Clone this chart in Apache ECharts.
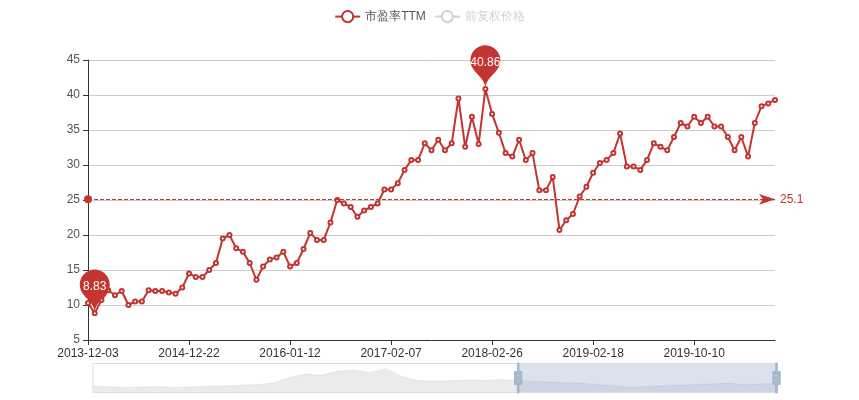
<!doctype html>
<html>
<head>
    <meta charset="utf-8">
    <title>市盈率TTM</title>
    <style>
        html, body { margin: 0; padding: 0; }
        #container { width: 859px; height: 400px; }
    </style>
</head>
<body>
<div id="container"></div>
<script type="text/javascript" src="https://cdn.jsdelivr.net/npm/echarts@6/dist/echarts.min.js"></script>
<script type="text/javascript">
    // 轴标签上的关键日期（每 15 个点一个）
    var keyDates = ['2013-12-03', '2014-12-22', '2016-01-12', '2017-02-07', '2018-02-26', '2019-02-18', '2019-10-10'];
    var peValues = [
        10.3, 8.83, 10.7, 12.1, 11.4, 12.0, 10.0, 10.5, 10.5, 12.1, 12.0, 12.0, 11.8, 11.6, 12.5, 14.5,
        14.0, 14.0, 15.0, 16.0, 19.5, 20.0, 18.1, 17.6, 16.0, 13.6, 15.5, 16.5, 16.8, 17.6, 15.5,
        16.0, 18.0, 20.3, 19.3, 19.3, 21.8, 25.0, 24.5, 24.0, 22.6, 23.5, 24.0, 24.5, 26.5, 26.5,
        27.4, 29.3, 30.7, 30.7, 33.1, 32.1, 33.6, 32.1, 33.1, 39.5, 32.6, 36.9, 33.0, 40.86, 37.3,
        34.6, 31.7, 31.2, 33.6, 30.7, 31.7, 26.4, 26.4, 28.3, 20.7, 22.1, 23.0, 25.5, 26.9, 28.9,
        30.3, 30.7, 31.7, 34.5, 29.8, 29.8, 29.3, 30.7, 33.1, 32.6, 32.1, 34.0, 36.0, 35.5, 36.9,
        36.0, 36.9, 35.5, 35.5, 34.0, 32.1, 34.0, 31.2, 36.0, 38.4, 38.8, 39.3
    ];
    var priceValues = [
        12, 11.5, 11, 11.2, 11.5, 11, 11.3, 11.8, 12, 12.5, 13, 14, 18, 21, 20, 23, 24, 22, 25, 19,
        16, 15.5, 16, 16.5, 16.2, 16.8, 16, 15.5, 15, 14.5, 14, 13, 12, 11, 11.5, 12, 12.5, 13, 13.5, 14, 13, 13.5, 14
    ];
    var peAverage = 25.1;
    var step = 15;

    // 关键日期之间按天数补齐类目
    function fmt(d) { return d.toISOString().slice(0, 10); }
    var categories = [];
    for (var i = 0; i < peValues.length; i++) {
        var k = Math.floor(i / step), r, dayStep, a;
        if (k >= keyDates.length - 1) {
            a = new Date(keyDates[keyDates.length - 1]);
            r = i - (keyDates.length - 1) * step;
            dayStep = 16 * 86400000;
        } else {
            a = new Date(keyDates[k]);
            r = i % step;
            dayStep = (new Date(keyDates[k + 1]) - a) / step;
        }
        categories.push(fmt(new Date(a.getTime() + r * dayStep)));
    }
    var priceCats = priceValues.map(function (v, j) { return 'p' + j; });

    var myChart = echarts.init(document.getElementById('container'));
    var option = {
        color: ['#c23531', '#2f4554'],
        animation: false,
        legend: {
            top: 5,
            data: ['市盈率TTM', '前复权价格'],
            selected: {'市盈率TTM': true, '前复权价格': false},
            textStyle: {fontSize: 12}
        },
        grid: {left: 88, right: 84, top: 60, bottom: 60},
        xAxis: [{
            type: 'category',
            data: categories,
            boundaryGap: false,
            axisLine: {lineStyle: {color: '#333'}},
            axisTick: {interval: step - 1},
            axisLabel: {interval: step - 1, color: '#333', fontSize: 12}
        }, {
            type: 'category',
            data: priceCats,
            show: false,
            boundaryGap: false
        }],
        yAxis: [{
            type: 'value',
            min: 5,
            max: 45,
            interval: 5,
            axisLine: {show: true, lineStyle: {color: '#333'}},
            axisTick: {show: true},
            splitLine: {lineStyle: {color: '#ccc'}}
        }, {
            type: 'value',
            show: false
        }],
        dataZoom: [{
            type: 'slider',
            xAxisIndex: 1,
            start: 62,
            end: 100,
            left: 90,
            right: 84,
            bottom: 7,
            height: 30,
            showDetail: false,
            showDataShadow: true,
            borderColor: '#ddd',
            backgroundColor: 'rgba(47,69,84,0)',
            fillerColor: 'rgba(167,183,204,0.4)',
            moveHandleSize: 0,
            brushSelect: false,
            handleIcon: 'path://M8.2,13.6V3.9H6.3v9.7H3.1v14.9h3.3v9.7h1.8v-9.7h3.3V13.6H8.2z M9.7,24.4H4.8v-1.4h4.9V24.4z M9.7,19.1H4.8v-1.4h4.9V19.1z',
            handleSize: '100%',
            handleStyle: {color: '#a7b7cc', borderColor: '#a7b7cc'},
            dataBackground: {
                lineStyle: {color: '#bbb', opacity: 0.5, width: 0.5},
                areaStyle: {color: '#ccc', opacity: 0.4}
            },
            selectedDataBackground: {
                lineStyle: {color: '#8fa0b8', opacity: 0.5, width: 0.5},
                areaStyle: {color: '#a7b7cc', opacity: 0.3}
            }
        }],
        series: [{
            name: '市盈率TTM',
            type: 'line',
            data: peValues,
            symbol: 'emptyCircle',
            symbolSize: 4,
            lineStyle: {width: 2},
            markPoint: {
                label: {color: '#fff', fontSize: 12},
                data: [{type: 'max', name: '最大值'}, {type: 'min', name: '最小值'}]
            },
            markLine: {
                symbol: ['circle', 'arrow'],
                label: {color: '#c23531'},
                data: [{yAxis: peAverage, name: '平均值'}]
            }
        }, {
            name: 'shadow',
            type: 'line',
            xAxisIndex: 1,
            yAxisIndex: 1,
            data: priceValues,
            symbol: 'none',
            silent: true,
            lineStyle: {opacity: 0},
            tooltip: {show: false}
        }, {
            name: '前复权价格',
            type: 'line',
            xAxisIndex: 1,
            yAxisIndex: 1,
            data: priceValues
        }]
    };
    myChart.setOption(option, true);
</script>
</body>
</html>
